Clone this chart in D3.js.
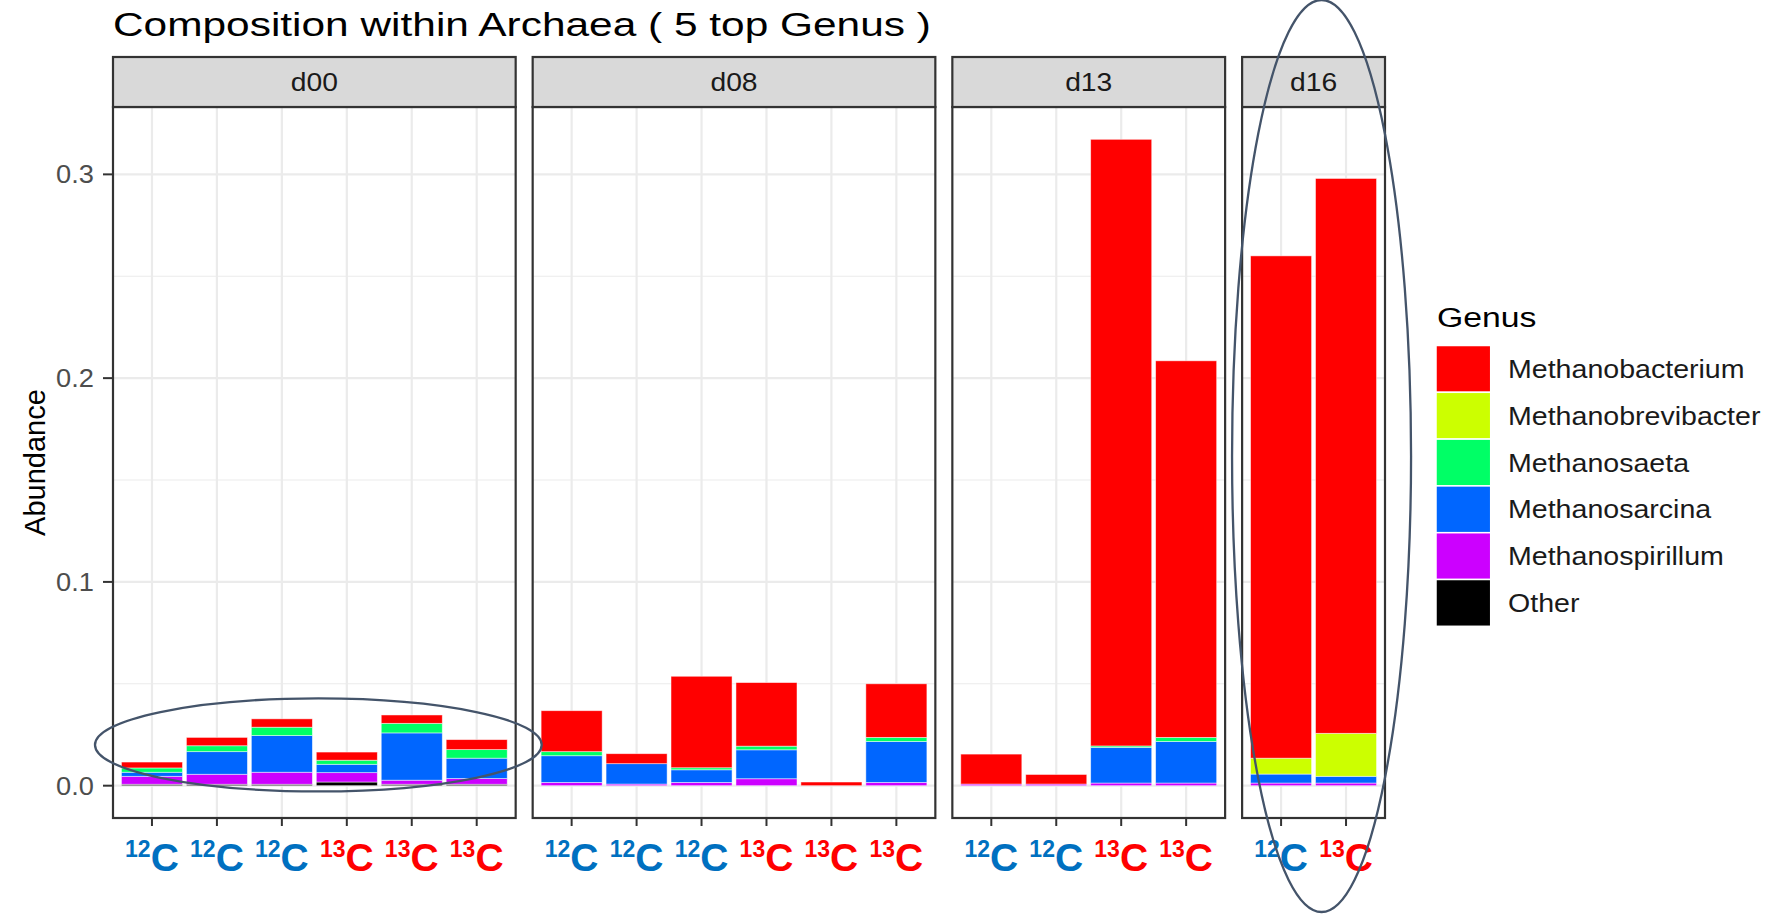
<!DOCTYPE html>
<html>
<head>
<meta charset="utf-8">
<script src="https://cdn.jsdelivr.net/npm/d3@7"></script>
<style>
  body { margin: 0; background: #fff; }
  svg { display: block; font-family: Arial, "Liberation Sans", sans-serif; }
</style>
</head>
<body>
<svg id="chart"></svg>
<script>
// data
const days = ['d00', 'd08', 'd13', 'd16'];
const sampleDay = ['d00', 'd00', 'd00', 'd00', 'd00', 'd00',
                   'd08', 'd08', 'd08', 'd08', 'd08', 'd08',
                   'd13', 'd13', 'd13', 'd13',
                   'd16', 'd16'];
const sampleIsotope = ['12', '12', '12', '13', '13', '13',
                       '12', '12', '12', '13', '13', '13',
                       '12', '12', '13', '13',
                       '12', '13'];
const genera = ['Methanobacterium', 'Methanobrevibacter', 'Methanosaeta',
                'Methanosarcina', 'Methanospirillum', 'Other'];
const methanobacterium   = [0.0029, 0.0041, 0.0041, 0.0040, 0.0041, 0.0049,
                            0.0201, 0.0049, 0.0449, 0.0312, 0.0018, 0.0263,
                            0.0147, 0.0047, 0.2977, 0.1848,
                            0.2465, 0.2723];
const methanobrevibacter = [0, 0, 0, 0, 0, 0,
                            0, 0, 0, 0, 0, 0,
                            0, 0, 0, 0,
                            0.0078, 0.0211];
const methanosaeta       = [0.0021, 0.0029, 0.0041, 0.0020, 0.0047, 0.0042,
                            0.0020, 0, 0.0010, 0.0018, 0, 0.0020,
                            0, 0, 0.0007, 0.0020,
                            0, 0];
const methanosarcina     = [0.0020, 0.0111, 0.0180, 0.0041, 0.0232, 0.0100,
                            0.0131, 0.0100, 0.0062, 0.0142, 0, 0.0201,
                            0, 0, 0.0175, 0.0204,
                            0.0044, 0.0033];
const methanospirillum   = [0.0039, 0.0049, 0.0059, 0.0046, 0.0020, 0.0028,
                            0.0016, 0.0008, 0.0016, 0.0034, 0, 0.0016,
                            0.0008, 0.0008, 0.0013, 0.0013,
                            0.0013, 0.0013];
const other              = [0.0007, 0.0007, 0.0007, 0.0018, 0.0007, 0.0007,
                            0, 0, 0, 0, 0, 0,
                            0, 0, 0, 0,
                            0, 0];
const yTicks = [0, 0.1, 0.2, 0.3];
const yMinor = [0.05, 0.15, 0.25];

// R rainbow(5) + black
const colors = ['#FF0000', '#CCFF00', '#00FF66', '#0066FF', '#CC00FF', '#000000'];
const isoColor = { '12': '#0070C0', '13': '#FF0000' };

const width = 1777;
const height = 914;
const svg = d3.select('#chart').attr('width', width).attr('height', height);

// stretch text horizontally, the picture is a bit wider than tall
function stretch(sel, k) {
    sel.each(function () {
        const w = this.getComputedTextLength();
        this.setAttribute('textLength', w * k);
        this.setAttribute('lengthAdjust', 'spacingAndGlyphs');
    });
}

// table for the stack
const series = [methanobacterium, methanobrevibacter, methanosaeta, methanosarcina, methanospirillum, other];
const rows = sampleDay.map((day, i) => {
    const row = { id: day + '_' + i, day: day, iso: sampleIsotope[i] };
    genera.forEach((g, j) => { row[g] = series[j][i]; });
    return row;
});
const stacked = d3.stack().keys(genera.slice().reverse())(rows);
const color = d3.scaleOrdinal().domain(genera).range(colors);

// layout
const plotLeft = 113, plotRight = 1385, gap = 17;
const stripTop = 57, panelTop = 107, panelBottom = 818;
const counts = days.map(d => rows.filter(r => r.day === d).length);
const unitW = (plotRight - plotLeft - gap * (days.length - 1)) / d3.sum(counts, n => n + 0.2);
let cursor = plotLeft;
const panels = days.map((d, i) => {
    const w = (counts[i] + 0.2) * unitW;
    const p = { day: d, x0: cursor, w: w };
    cursor += w + gap;
    return p;
});

const maxTotal = d3.max(rows, r => d3.sum(genera, g => r[g]));
const y = d3.scaleLinear()
    .domain([-maxTotal * 0.05, maxTotal * 1.05])
    .range([panelBottom, panelTop]);

// title
const title = svg.append('text')
    .attr('x', plotLeft).attr('y', 36)
    .attr('font-size', 33).attr('fill', '#000')
    .text('Composition within Archaea ( 5 top Genus )');
stretch(title, 1.285);

// y axis title
svg.append('text')
    .attr('transform', `translate(45,${(panelTop + panelBottom) / 2}) rotate(-90)`)
    .attr('text-anchor', 'middle')
    .attr('font-size', 29).attr('fill', '#000')
    .text('Abundance');

// y axis ticks + labels
const yAxis = svg.append('g');
yAxis.selectAll('line').data(yTicks).enter().append('line')
    .attr('x1', plotLeft - 10).attr('x2', plotLeft)
    .attr('y1', d => y(d)).attr('y2', d => y(d))
    .attr('stroke', '#333').attr('stroke-width', 2);
const yLabels = yAxis.selectAll('text').data(yTicks).enter().append('text')
    .attr('x', plotLeft - 19).attr('y', d => y(d))
    .attr('dy', '0.36em')
    .attr('text-anchor', 'end')
    .attr('font-size', 25).attr('fill', '#4D4D4D')
    .text(d3.format('.1f'));
stretch(yLabels, 1.09);

panels.forEach(p => {
    const data = rows.filter(r => r.day === p.day);
    const x = d3.scalePoint().domain(data.map(r => r.id)).range([0, p.w]).padding(0.6);
    const barW = x.step() * 0.94;
    const g = svg.append('g').attr('transform', `translate(${p.x0},0)`);

    // panel background + grid
    g.append('rect')
        .attr('x', 0).attr('y', panelTop).attr('width', p.w).attr('height', panelBottom - panelTop)
        .attr('fill', '#fff');
    g.selectAll('.minor').data(yMinor).enter().append('line')
        .attr('x1', 0).attr('x2', p.w)
        .attr('y1', d => y(d)).attr('y2', d => y(d))
        .attr('stroke', '#EBEBEB').attr('stroke-width', 1.1);
    g.selectAll('.major').data(yTicks).enter().append('line')
        .attr('x1', 0).attr('x2', p.w)
        .attr('y1', d => y(d)).attr('y2', d => y(d))
        .attr('stroke', '#EBEBEB').attr('stroke-width', 2.2);
    g.selectAll('.vgrid').data(data).enter().append('line')
        .attr('x1', d => x(d.id)).attr('x2', d => x(d.id))
        .attr('y1', panelTop).attr('y2', panelBottom)
        .attr('stroke', '#EBEBEB').attr('stroke-width', 2.2);

    // stacked bars
    stacked.forEach(layer => {
        g.selectAll(null)
            .data(layer.filter(s => s.data.day === p.day && s[1] - s[0] > 0))
            .enter().append('rect')
            .attr('x', s => x(s.data.id) - barW / 2)
            .attr('width', barW)
            .attr('y', s => y(s[1]))
            .attr('height', s => y(s[0]) - y(s[1]))
            .attr('fill', color(layer.key))
            .attr('stroke', '#fff').attr('stroke-opacity', 0.6).attr('stroke-width', 0.8);
    });

    // panel border
    g.append('rect')
        .attr('x', 0).attr('y', panelTop).attr('width', p.w).attr('height', panelBottom - panelTop)
        .attr('fill', 'none').attr('stroke', '#333').attr('stroke-width', 2.2);

    // strip
    g.append('rect')
        .attr('x', 0).attr('y', stripTop).attr('width', p.w).attr('height', panelTop - stripTop)
        .attr('fill', '#D9D9D9').attr('stroke', '#333').attr('stroke-width', 2.2);
    const strip = g.append('text')
        .attr('x', p.w / 2).attr('y', (stripTop + panelTop) / 2)
        .attr('dy', '0.36em').attr('text-anchor', 'middle')
        .attr('font-size', 25).attr('fill', '#1A1A1A')
        .text(p.day);
    stretch(strip, 1.13);

    // x ticks
    g.selectAll('.xtick').data(data).enter().append('line')
        .attr('x1', d => x(d.id)).attr('x2', d => x(d.id))
        .attr('y1', panelBottom).attr('y2', panelBottom + 8)
        .attr('stroke', '#333').attr('stroke-width', 2);

    // isotope labels
    const lab = g.selectAll('.xlab').data(data).enter().append('text')
        .attr('x', d => x(d.id)).attr('y', 871)
        .attr('text-anchor', 'middle')
        .attr('font-weight', 'bold')
        .attr('fill', d => isoColor[d.iso]);
    lab.append('tspan').attr('font-size', 23).attr('dy', -14).text(d => d.iso);
    lab.append('tspan').attr('font-size', 39).attr('dy', 14).text('C');
});

// legend
const legend = svg.append('g').attr('transform', 'translate(1436,0)');
const legTitle = legend.append('text')
    .attr('x', 1).attr('y', 327)
    .attr('font-size', 27).attr('fill', '#000')
    .text('Genus');
stretch(legTitle, 1.25);
const keyW = 54.7, keyH = 46.8, keyTop = 345.5;
legend.selectAll('rect').data(genera).enter().append('rect')
    .attr('x', 0).attr('y', (d, i) => keyTop + i * keyH)
    .attr('width', keyW).attr('height', keyH)
    .attr('fill', d => color(d))
    .attr('stroke', '#fff').attr('stroke-width', 1.5);
const legLabels = legend.selectAll('text.lab').data(genera).enter().append('text')
    .attr('class', 'lab')
    .attr('x', 72).attr('y', (d, i) => keyTop + i * keyH + keyH / 2)
    .attr('dy', '0.36em')
    .attr('font-size', 25.5).attr('fill', '#1A1A1A')
    .text(d => d);
stretch(legLabels, 1.12);

// annotation ellipses
const p0 = panels[0], p3 = panels[3];
svg.append('ellipse')
    .attr('cx', p0.x0 + p0.w / 2 + 4).attr('cy', y(0.02))
    .attr('rx', p0.w / 2 + 22).attr('ry', 46.5)
    .attr('fill', 'none').attr('stroke', '#44546A').attr('stroke-width', 2.3);
svg.append('ellipse')
    .attr('cx', p3.x0 + p3.w / 2 + 8).attr('cy', 456)
    .attr('rx', 89.5).attr('ry', 456)
    .attr('fill', 'none').attr('stroke', '#44546A').attr('stroke-width', 2.3);
</script>
</body>
</html>
